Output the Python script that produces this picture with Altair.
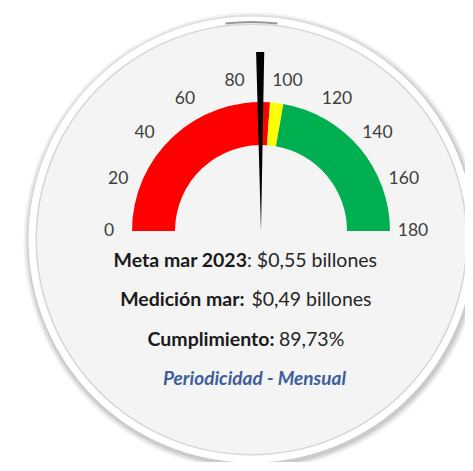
import math
import altair as alt
import pandas as pd

# ---- data ----
segment_start = [0, 94, 100]
segment_end = [94, 100, 180]
segment_color = ["#ff0000", "#ffff00", "#00b050"]
tick_values = [0, 20, 40, 60, 80, 100, 120, 140, 160, 180]
needle_value = 89.73

bold_parts = ["Meta mar 2023", "Medición mar:", "Cumplimiento:"]
normal_parts = [": $0,55 billones", "$0,49 billones", "89,73%"]
footer_text = "Periodicidad - Mensual"

# ---- layout (pixels) ----
W, H = 457, 454
CX, CY = 253, 223            # gauge centre
BX, BY = 243.5, 231.5        # background disc centre
line_y = [253, 292, 332]
bold_right_x = [239, 236.5, 266.5]
normal_left_x = [239, 243.4, 271]
footer_xy = (246.5, 371)
NEEDLE_HALF = 1.3
TEXT_SIZE = 19.5

TH = alt.Scale(domain=[0, 180], range=[-math.pi / 2, math.pi / 2])
one = pd.DataFrame({"k": [0]})

layers = []

# plain white page underneath everything
layers.append(
    alt.Chart(one).mark_rect(color="#ffffff")
    .encode(x=alt.value(-5), x2=alt.value(W + 5), y=alt.value(-5), y2=alt.value(H + 5))
)

# soft shadow
for r, op in [(229, 0.05), (227, 0.07), (225, 0.09)]:
    layers.append(
        alt.Chart(one).mark_arc(radius=r, theta=0, theta2=2 * math.pi,
                                color="#000000", opacity=op)
        .encode(x=alt.value(BX + 1), y=alt.value(BY + 2))
    )
# white rim
layers.append(
    alt.Chart(one).mark_arc(radius=223, theta=0, theta2=2 * math.pi, color="#ffffff")
    .encode(x=alt.value(BX), y=alt.value(BY))
)
# thin grey line inside rim
layers.append(
    alt.Chart(one).mark_arc(radius=216, theta=0, theta2=2 * math.pi, color="#d6d6d6")
    .encode(x=alt.value(BX), y=alt.value(BY))
)
# inner fill
layers.append(
    alt.Chart(one).mark_arc(radius=214.5, theta=0, theta2=2 * math.pi, color="#f4f4f4")
    .encode(x=alt.value(BX), y=alt.value(BY))
)
# small dark smudge at the top of the rim
layers.append(
    alt.Chart(one).mark_arc(radius=218.5, radius2=216.5,
                            theta=2 * math.pi - 0.12, theta2=2 * math.pi + 0.12,
                            color="#555555", opacity=0.6)
    .encode(x=alt.value(BX), y=alt.value(BY))
)

seg = pd.DataFrame({"start": segment_start, "end": segment_end, "color": segment_color})
layers.append(
    alt.Chart(seg).mark_arc(radius=129, radius2=86)
    .encode(
        theta=alt.Theta("start:Q", scale=TH, stack=None),
        theta2="end:Q",
        color=alt.Color("color:N", scale=None),
        x=alt.value(CX), y=alt.value(CY),
    )
)

ticks = pd.DataFrame({"v": tick_values})
layers.append(
    alt.Chart(ticks).mark_text(radius=152, font="Lato", fontSize=17.5, color="#404040",
                               align="center", baseline="middle")
    .encode(
        theta=alt.Theta("v:Q", scale=TH, stack=None),
        text="v:Q",
        x=alt.value(CX), y=alt.value(CY),
    )
)

needle = pd.DataFrame({"a": [needle_value - NEEDLE_HALF], "b": [needle_value + NEEDLE_HALF]})
layers.append(
    alt.Chart(needle).mark_arc(radius=179, radius2=0, color="#000000")
    .encode(
        theta=alt.Theta("a:Q", scale=TH, stack=None),
        theta2="b:Q",
        x=alt.value(CX), y=alt.value(CY),
    )
)

bold_df = pd.DataFrame({"t": bold_parts, "x": bold_right_x, "y": line_y})
normal_df = pd.DataFrame({"t": normal_parts, "x": normal_left_x, "y": line_y})
layers.append(
    alt.Chart(bold_df).mark_text(font="Lato", fontSize=TEXT_SIZE, fontWeight="bold",
                                 color="#1a1a1a", align="right", baseline="middle")
    .encode(x=alt.X("x:Q", scale=None, axis=None), y=alt.Y("y:Q", scale=None, axis=None),
            text="t:N")
)
layers.append(
    alt.Chart(normal_df).mark_text(font="Lato", fontSize=TEXT_SIZE,
                                   color="#262626", align="left", baseline="middle")
    .encode(x=alt.X("x:Q", scale=None, axis=None), y=alt.Y("y:Q", scale=None, axis=None),
            text="t:N")
)
footer = pd.DataFrame({"t": [footer_text]})
layers.append(
    alt.Chart(footer).mark_text(font="Lato", fontSize=19, fontWeight="bold",
                                fontStyle="italic", color="#3e5f9c",
                                align="center", baseline="middle")
    .encode(x=alt.value(footer_xy[0]), y=alt.value(footer_xy[1]), text="t:N")
)

chart = (
    alt.layer(*layers)
    .properties(width=W, height=H, padding=0,
                autosize=alt.AutoSizeParams(type="none"))
    .configure_view(stroke="transparent", strokeWidth=0)
    .configure(background="#ffffff")
)

chart.save("out.html", embed_options={"renderer": "svg", "actions": False})
